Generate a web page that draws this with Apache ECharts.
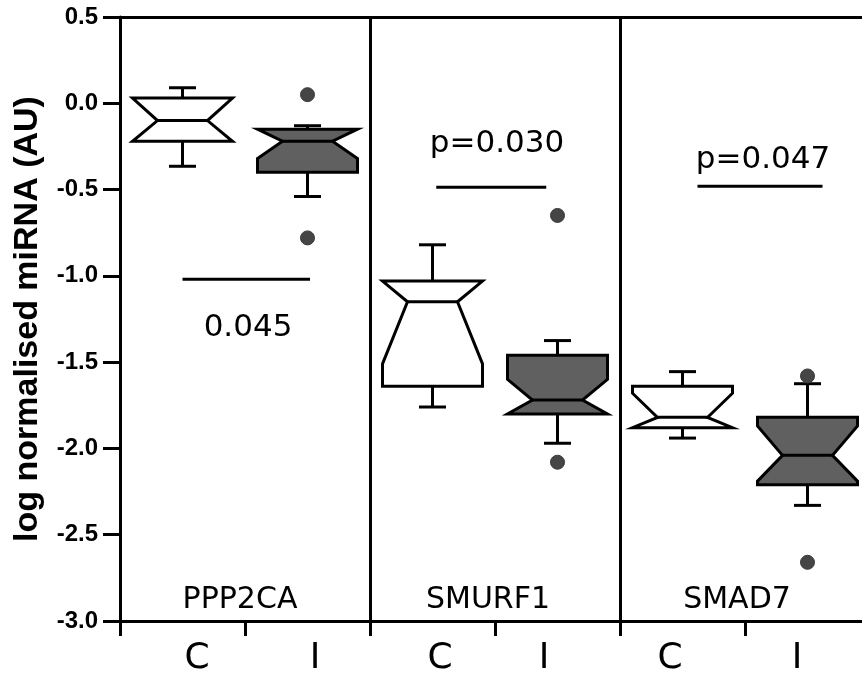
<!DOCTYPE html>
<html>
<head>
<meta charset="utf-8">
<script src="https://cdn.jsdelivr.net/npm/echarts@6/dist/echarts.min.js"></script>
<style>
html,body{margin:0;padding:0;background:#fff;}
#chart{width:862px;height:684px;}
</style>
</head>
<body>
<div id="chart"></div>
<script>
// ---- data ----
const groupNames = ['PPP2CA', 'SMURF1', 'SMAD7'];
const groupLabelX = [0.96, 2.944, 4.936];
const groupLabelY = -2.877;

const boxX        = [0.5, 1.5, 2.5, 3.5, 4.5, 5.5];
const whiskerLow  = [-0.365, -0.54, -1.76, -1.97, -1.94, -2.33];
const q1          = [-0.22, -0.40, -1.64, -1.80, -1.88, -2.21];
const notchLow    = [-0.22, -0.32, -1.51, -1.80, -1.88, -2.19];
const median      = [-0.10, -0.22, -1.15, -1.72, -1.82, -2.04];
const notchHigh   = [0.03, -0.15, -1.03, -1.60, -1.68, -1.87];
const q3          = [0.03, -0.15, -1.03, -1.46, -1.64, -1.82];
const whiskerHigh = [0.09, -0.13, -0.82, -1.375, -1.555, -1.625];
const boxFill     = ['#ffffff', '#606060', '#ffffff', '#606060', '#ffffff', '#606060'];

const outlierX = [1.5, 1.5, 3.5, 3.5, 5.5, 5.5];
const outlierY = [0.05, -0.78, -0.65, -2.08, -1.58, -2.66];

const sigX1 = [0.5, 2.53, 4.62];
const sigX2 = [1.52, 3.41, 5.62];
const sigY  = [-1.02, -0.487, -0.481];
const pText = ['0.045', 'p=0.030', 'p=0.047'];
const pX    = [1.024, 3.016, 5.144];
const pY    = [-1.30, -0.238, -0.331];

const xLabelText = ['C', 'I', 'C', 'I', 'C', 'I'];
const xLabelPos  = [0.616, 1.56, 2.56, 3.392, 4.40, 5.416];
const groupBounds = [2, 4];

const yMin = -3.0, yMax = 0.5, yStep = 0.5;

// ---- build ----
const boxData = boxX.map((x, i) => [x, whiskerLow[i], q1[i], notchLow[i], median[i], notchHigh[i], q3[i], whiskerHigh[i], i]);
const outlierData = outlierX.map((x, i) => [x, outlierY[i]]);
const sigData = sigX1.map((x, i) => [x, sigX2[i], sigY[i]]);
const pData = pX.map((x, i) => [x, pY[i], i]);
const gData = groupLabelX.map((x, i) => [x, groupLabelY, i]);

const chart = echarts.init(document.getElementById('chart'), null, {renderer: 'canvas'});
const LW = 3;
const AW = 3;

function renderBox(params, api) {
  const x = api.value(0);
  const idx = api.value(8);
  const hw = api.size([0.4, 0])[0];
  const nw = api.size([0.2, 0])[0];
  const cw = api.size([0.108, 0])[0];
  const c = (y) => api.coord([x, y]);
  const cx = c(0)[0];
  const yWL = c(api.value(1))[1], yQ1 = c(api.value(2))[1], yNL = c(api.value(3))[1];
  const yMd = c(api.value(4))[1], yNH = c(api.value(5))[1], yQ3 = c(api.value(6))[1], yWH = c(api.value(7))[1];
  const stroke = {stroke: '#000', lineWidth: LW, fill: null};
  return {
    type: 'group',
    children: [
      {type: 'line', shape: {x1: cx, y1: yQ3, x2: cx, y2: yWH}, style: stroke},
      {type: 'line', shape: {x1: cx - cw, y1: yWH, x2: cx + cw, y2: yWH}, style: stroke},
      {type: 'line', shape: {x1: cx, y1: yQ1, x2: cx, y2: yWL}, style: stroke},
      {type: 'line', shape: {x1: cx - cw, y1: yWL, x2: cx + cw, y2: yWL}, style: stroke},
      {type: 'polygon', shape: {points: [
        [cx - hw, yQ3], [cx + hw, yQ3], [cx + hw, yNH], [cx + nw, yMd], [cx + hw, yNL],
        [cx + hw, yQ1], [cx - hw, yQ1], [cx - hw, yNL], [cx - nw, yMd], [cx - hw, yNH]
      ]}, style: {fill: boxFill[idx], stroke: '#000', lineWidth: LW, lineJoin: 'miter'}},
      {type: 'line', shape: {x1: cx - nw, y1: yMd, x2: cx + nw, y2: yMd}, style: stroke}
    ]
  };
}

const option = {
  animation: false,
  backgroundColor: '#fff',
  grid: {left: 120, top: 17, width: 750, height: 604, containLabel: false, outerBoundsMode: 'none'},
  xAxis: [{
    type: 'value', min: 0, max: 6, interval: 1, position: 'bottom',
    axisLine: {show: true, onZero: false, lineStyle: {color: '#000', width: AW}},
    axisTick: {show: true, inside: false, length: 15, lineStyle: {color: '#000', width: AW}},
    splitLine: {show: false},
    axisLabel: {
      show: true, customValues: xLabelPos, margin: 20, color: '#000',
      fontFamily: 'DejaVu Sans', fontSize: 36, hideOverlap: false,
      formatter: function (v) {
        let b = 0;
        for (let i = 1; i < xLabelPos.length; i++) if (Math.abs(xLabelPos[i] - v) < Math.abs(xLabelPos[b] - v)) b = i;
        return xLabelText[b];
      }
    }
  }, {
    type: 'value', min: 0, max: 6, position: 'top',
    axisLine: {show: true, onZero: false, lineStyle: {color: '#000', width: AW}},
    axisTick: {show: false}, axisLabel: {show: false}, splitLine: {show: false}
  }],
  yAxis: {
    type: 'value', min: yMin, max: yMax, interval: yStep,
    name: 'log normalised miRNA (AU)', nameLocation: 'middle', nameRotate: 90, nameGap: 75,
    nameTextStyle: {fontFamily: 'Liberation Sans', fontWeight: 'bold', fontSize: 34, color: '#000'},
    axisLine: {show: true, onZero: false, lineStyle: {color: '#000', width: AW}},
    axisTick: {show: true, inside: false, length: 17, lineStyle: {color: '#000', width: AW}},
    splitLine: {show: false},
    axisLabel: {
      margin: 22, color: '#000', fontFamily: 'Liberation Sans', fontWeight: 'bold', fontSize: 24,
      showMinLabel: true, showMaxLabel: true,
      formatter: (v) => v.toFixed(1)
    }
  },
  series: [
    {
      type: 'custom', name: 'boxes', data: boxData, renderItem: renderBox, clip: false, z: 3,
      encode: {x: 0, y: [1, 7]}
    },
    {
      type: 'scatter', name: 'outliers', data: outlierData, symbol: 'circle', symbolSize: 14,
      itemStyle: {color: '#454545', borderColor: '#3a3a3a', borderWidth: 1, opacity: 1}, z: 4,
      markLine: {
        silent: true, symbol: ['none', 'none'], label: {show: false},
        lineStyle: {color: '#000', width: AW, type: 'solid'},
        data: groupBounds.map(x => ({xAxis: x}))
      }
    },
    {
      type: 'custom', name: 'sig', data: sigData, clip: false, z: 3,
      encode: {x: [0, 1], y: 2},
      renderItem: function (params, api) {
        const a = api.coord([api.value(0), api.value(2)]);
        const b = api.coord([api.value(1), api.value(2)]);
        return {type: 'line', shape: {x1: a[0], y1: a[1], x2: b[0], y2: b[1]}, style: {stroke: '#000', lineWidth: 3}};
      }
    },
    {
      type: 'custom', name: 'ptext', data: pData, clip: false, z: 5,
      encode: {x: 0, y: 1},
      renderItem: function (params, api) {
        const p = api.coord([api.value(0), api.value(1)]);
        return {type: 'text', x: p[0], y: p[1], style: {
          text: pText[api.value(2)], fill: '#000', font: '31px "DejaVu Sans"', align: 'center', verticalAlign: 'middle'}};
      }
    },
    {
      type: 'custom', name: 'gtext', data: gData, clip: false, z: 5,
      encode: {x: 0, y: 1},
      renderItem: function (params, api) {
        const p = api.coord([api.value(0), api.value(1)]);
        return {type: 'text', x: p[0], y: p[1], style: {
          text: groupNames[api.value(2)], fill: '#000', font: '30px "DejaVu Sans"', align: 'center', verticalAlign: 'middle'}};
      }
    }
  ]
};
chart.setOption(option);
</script>
</body>
</html>
